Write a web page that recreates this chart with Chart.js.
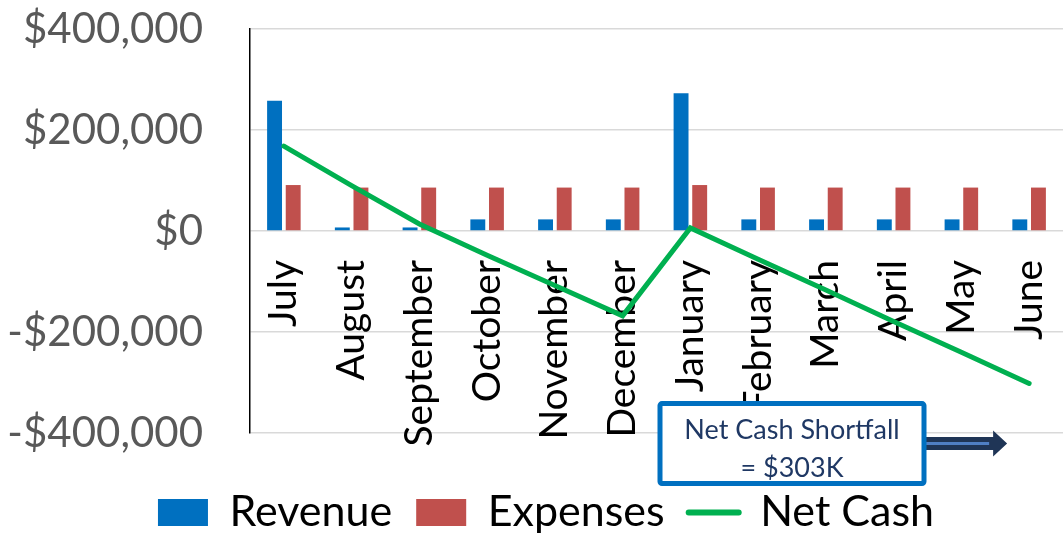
<!DOCTYPE html>
<html>
<head>
<meta charset="utf-8">
<script src="https://cdn.jsdelivr.net/npm/chart.js@4.4.1/dist/chart.umd.min.js"></script>
<style>
html,body{margin:0;padding:0;background:#fff;overflow:hidden}
#wrap{width:1063px;height:535px;position:relative}
</style>
</head>
<body>
<div id="wrap"><canvas id="c" width="1063" height="535"></canvas></div>
<script>
// ---- data ----
const months = ['July','August','September','October','November','December','January','February','March','April','May','June'];
const revenue = [258000, 7000, 7000, 23000, 23000, 23000, 273000, 23000, 23000, 23000, 23000, 23000];
const expenses = [91000, 86000, 86000, 86000, 86000, 86000, 91000, 86000, 86000, 86000, 86000, 86000];
const netCash = [168000, 90000, 14000, -48000, -108000, -168000, 6000, -56000, -117000, -179000, -240000, -302000];
const yTickValues = [-400000, -200000, 0, 200000, 400000];
const seriesNames = ['Revenue', 'Expenses', 'Net Cash'];
const noteLines = ['Net Cash Shortfall', '= $303K'];

const FONT = 'Lato';

function money(v) {
  const s = '$' + Math.abs(v).toLocaleString('en-US');
  return v < 0 ? '-' + s : s;
}

const notePlugin = {
  id: 'notePlugin',
  afterDraw(chart) {
    const {ctx, scales: {x, y}} = chart;
    const cx = (x.getPixelForValue(7) + x.getPixelForValue(8)) / 2;
    const cy = y.getPixelForValue(-421000);
    const w = 264, h = 80;
    const left = cx - w / 2, top = cy - h / 2, right = cx + w / 2;
    ctx.save();
    // arrow
    const tipX = x.getPixelForValue(11) - 22;
    const headX = tipX - 14;
    ctx.fillStyle = '#1f3556';
    ctx.beginPath();
    ctx.moveTo(right, cy - 6.5);
    ctx.lineTo(headX, cy - 6.5);
    ctx.lineTo(headX, cy - 13);
    ctx.lineTo(tipX, cy);
    ctx.lineTo(headX, cy + 13);
    ctx.lineTo(headX, cy + 6.5);
    ctx.lineTo(right, cy + 6.5);
    ctx.closePath();
    ctx.fill();
    ctx.strokeStyle = '#4f7fc4';
    ctx.lineWidth = 3;
    ctx.beginPath();
    ctx.moveTo(right, cy);
    ctx.lineTo(headX - 4, cy);
    ctx.stroke();
    // box
    ctx.fillStyle = '#ffffff';
    ctx.strokeStyle = '#0070c0';
    ctx.lineWidth = 5;
    ctx.beginPath();
    ctx.roundRect(left, top, w, h, 2);
    ctx.fill();
    ctx.stroke();
    // text
    ctx.fillStyle = '#1f3864';
    ctx.font = '27px ' + FONT;
    ctx.textAlign = 'center';
    ctx.textBaseline = 'alphabetic';
    ctx.fillText(noteLines[0], cx, cy - 5);
    ctx.fillText(noteLines[1], cx, cy + 33);
    ctx.restore();
  }
};

const chart = new Chart(document.getElementById('c'), {
  type: 'bar',
  data: {
    labels: months,
    datasets: [
      {
        label: seriesNames[0],
        data: revenue,
        backgroundColor: '#0070c0',
        borderWidth: 0,
        categoryPercentage: 0.55,
        barPercentage: 0.8,
        order: 1
      },
      {
        label: seriesNames[1],
        data: expenses,
        backgroundColor: '#c0504d',
        borderWidth: 0,
        categoryPercentage: 0.55,
        barPercentage: 0.8,
        order: 1
      },
      {
        type: 'line',
        label: seriesNames[2],
        data: netCash,
        borderColor: '#00b050',
        backgroundColor: '#00b050',
        borderWidth: 5,
        pointRadius: 0,
        tension: 0,
        borderJoinStyle: 'miter',
        borderCapStyle: 'round',
        fill: false,
        order: 0
      }
    ]
  },
  options: {
    responsive: false,
    animation: false,
    devicePixelRatio: 1,
    layout: { padding: { left: 29, right: 0, top: 29, bottom: -9 } },
    scales: {
      x: {
        type: 'category',
        position: { y: 0 },
        grid: { display: false, drawTicks: false },
        border: { display: false },
        ticks: {
          autoSkip: false,
          minRotation: 90,
          maxRotation: 90,
          padding: 29,
          color: '#000000',
          font: { family: FONT, size: 39 }
        },
        afterFit(s) { s.height = 0; s.paddingLeft = 0; s.paddingRight = 0; s.paddingTop = 0; s.paddingBottom = 0; }
      },
      y: {
        min: -400000,
        max: 400000,
        afterBuildTicks(s) { s.ticks = yTickValues.map(v => ({ value: v })); },
        grid: { color: '#d9d9d9', lineWidth: 1.5, drawTicks: false },
        border: { display: true, color: '#000000', width: 1.5 },
        ticks: {
          padding: 47,
          color: '#595959',
          font: { family: FONT, size: 42 },
          callback: v => money(v)
        },
        afterFit(s) { s.width = 221; s.paddingTop = 0; s.paddingBottom = 0; },
        // let the long negative labels extend past the axis box instead of being clipped
        afterUpdate(s) { s._computeLabelArea = () => undefined; }
      }
    },
    plugins: {
      tooltip: { enabled: false },
      legend: {
        position: 'bottom',
        title: { display: true, text: '', padding: { top: 22, bottom: 0 }, font: { size: 10 } },
        labels: {
          usePointStyle: true,
          pointStyleWidth: 50,
          boxHeight: 27,
          padding: 24,
          color: '#000000',
          font: { family: FONT, size: 43 },
          generateLabels(chart) {
            return chart.data.datasets.map((ds, i) => ({
              text: ds.label,
              fillStyle: ds.backgroundColor,
              strokeStyle: ds.type === 'line' ? ds.borderColor : ds.backgroundColor,
              lineWidth: ds.type === 'line' ? 6 : 0,
              lineCap: 'round',
              pointStyle: ds.type === 'line' ? 'line' : 'rect',
              fontColor: '#000000',
              hidden: false,
              datasetIndex: i
            }));
          }
        }
      }
    }
  },
  plugins: [notePlugin]
});
</script>
</body>
</html>
